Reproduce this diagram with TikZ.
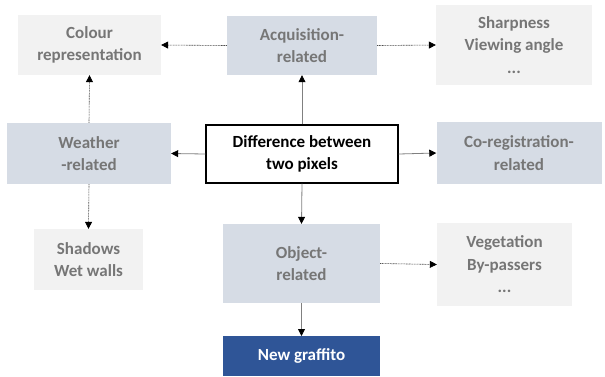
\documentclass[tikz,border=0pt]{standalone}
\usepackage{fontspec}
\setmainfont{Carlito}
\usetikzlibrary{arrows.meta}
\definecolor{txtgray}{HTML}{767676}
\definecolor{boxblue}{HTML}{D6DCE5}
\definecolor{boxgray}{HTML}{F2F2F2}
\definecolor{darkblue}{HTML}{2F5597}
\tikzset{
  x=1pt,y=-1pt,
  base/.style={inner sep=0pt, font=\fontsize{17}{22.5}\selectfont\bfseries, align=center, text=txtgray},
  bluebox/.style={base, fill=boxblue},
  graybox/.style={base, fill=boxgray},
  solidarrow/.style={draw=gray, line width=0.8pt, -{Triangle[length=7pt,width=7pt,color=black]}},
  dotarrow/.style={draw=black!70, line width=0.6pt, dash pattern=on 1pt off 0.6pt, -{Triangle[length=7pt,width=7pt,color=black]}},
}
\begin{document}
\begin{tikzpicture}
\useasboundingbox (0,0) rectangle (605,376);
\node[graybox, minimum width=143, minimum height=60] (colour) at (89.5,45) {Colour\\representation};
\node[bluebox, minimum width=150, minimum height=59] (acq) at (302,45.5) {Acquisition-\\related};
\node[graybox, minimum width=156, minimum height=80] (sharp) at (514,45) {Sharpness\\Viewing angle\\...};
\node[bluebox, minimum width=164, minimum height=61] (weather) at (89,153.5) {Weather\\-related};
\node[base, text=black, draw=black, line width=1.2pt, fill=white, minimum width=192, minimum height=58] (diff) at (302,154) {Difference between\\two pixels};
\node[bluebox, minimum width=165, minimum height=62] (coreg) at (519,153) {Co-registration-\\related};
\node[graybox, minimum width=109, minimum height=61] (shadows) at (88.5,259.5) {Shadows\\Wet walls};
\node[bluebox, minimum width=157, minimum height=79] (object) at (301.5,263.5) {Object-\\related};
\node[graybox, minimum width=135, minimum height=83] (veg) at (504.5,264.5) {Vegetation\\By-passers\\...};
\node[base, text=white, fill=darkblue, minimum width=157, minimum height=40, anchor=north] (graff) at (301.5,336) {New graffito};

\draw[dotarrow] (acq.west) -- (colour.east);
\draw[dotarrow] (acq.east) -- (sharp.west);
\draw[solidarrow] (diff.north) -- (acq.south);
\draw[solidarrow] (diff.west) -- (weather.east);
\draw[solidarrow] (diff.east) -- (coreg.west);
\draw[solidarrow] (diff.south) -- (object.north);
\draw[dotarrow] (weather.north) -- (colour.south);
\draw[dotarrow] (weather.south) -- (shadows.north);
\draw[dotarrow] (object.east) -- (veg.west);
\draw[solidarrow] (object.south) -- (graff.north);
\end{tikzpicture}
\end{document}
